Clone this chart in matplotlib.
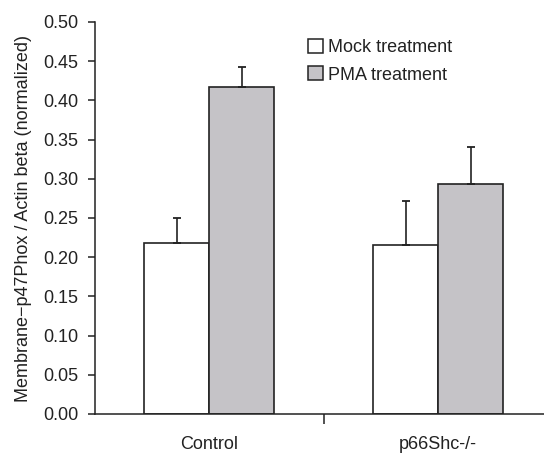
import matplotlib
matplotlib.use('Agg')
import matplotlib.pyplot as plt
import numpy as np
from matplotlib.patches import Patch

plt.rcParams['font.family'] = ['Liberation Sans', 'DejaVu Sans']

grupos = ['Control', 'p66Shc-/-']
mock = [0.218, 0.215]
mock_err = [0.032, 0.057]
pma = [0.417, 0.293]
pma_err = [0.025, 0.047]
yticks = [0.00, 0.05, 0.10, 0.15, 0.20, 0.25, 0.30, 0.35, 0.40, 0.45, 0.50]

gris = '#c5c3c7'
borde = '#222222'

fig = plt.figure(figsize=(5.44, 4.57), dpi=100)
ax = fig.add_axes([95/544, 1-414/457, 1-95/544, (414-22)/457])

x = np.arange(len(grupos))
w = 0.284
ax.bar(x - w/2, mock, w, color='white', edgecolor=borde, linewidth=1.2,
       yerr=[np.zeros(2), mock_err], error_kw=dict(ecolor=borde, elinewidth=1.2, capsize=3, capthick=1.3))
ax.bar(x + w/2, pma, w, color=gris, edgecolor=borde, linewidth=1.2,
       yerr=[np.zeros(2), pma_err], error_kw=dict(ecolor=borde, elinewidth=1.2, capsize=3, capthick=1.3))

ax.set_xlim(-0.5, 1.463)
ax.set_ylim(0, 0.5)
ax.set_yticks(yticks)
ax.set_yticklabels(['%.2f' % v for v in yticks], fontsize=13, color='#222222')
ax.set_xticks([0.5])
ax.set_xticklabels([''])
ax.tick_params(axis='y', length=5, width=1.1, color=borde, pad=7)
ax.tick_params(axis='x', length=7, width=1.1, color=borde)
for i, g in enumerate(grupos):
    ax.text(i, -0.039, g, ha='center', va='center', fontsize=13, color='#222222')

ax.spines['top'].set_visible(False)
ax.spines['right'].set_visible(False)
ax.spines['left'].set_color(borde)
ax.spines['bottom'].set_color(borde)
ax.spines['left'].set_linewidth(1.1)
ax.spines['bottom'].set_linewidth(1.1)

ax.set_ylabel('Membrane\u2212p47Phox / Actin beta (normalized)', fontsize=13, color='#222222', labelpad=8)

handles = [Patch(facecolor='white', edgecolor=borde, linewidth=1.1, label='Mock treatment'),
           Patch(facecolor=gris, edgecolor=borde, linewidth=1.1, label='PMA treatment')]
fig.legend(handles=handles, loc='upper left', bbox_to_anchor=(292/544, 1-23/457), frameon=False,
           fontsize=13, handlelength=0.8, handleheight=0.8, handletextpad=0.3, labelspacing=0.55,
           labelcolor='#222222')

fig.savefig('out.png', dpi=100)
